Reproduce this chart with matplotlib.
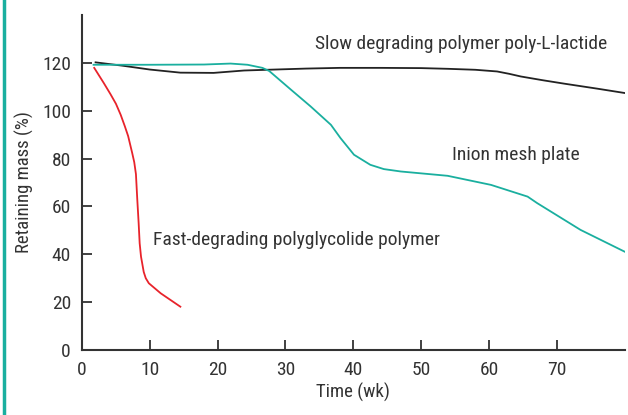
import matplotlib
matplotlib.use("Agg")
import matplotlib.pyplot as plt
from matplotlib.lines import Line2D

plt.rcParams['font.family'] = ['Roboto Condensed', 'DejaVu Sans']

# Data
slow_x = [2, 6, 10, 14.5, 19.4, 23.9, 27.3, 33, 38, 44, 50, 54, 58, 61.2, 63, 64.7, 68, 71.1, 76, 80]
slow_y = [120.2, 118.8, 117.2, 115.9, 115.8, 116.8, 117.1, 117.6, 117.9, 117.9, 117.8, 117.5, 117.1, 116.4, 115.4, 114.3, 112.7, 111.3, 109.2, 107.4]

inion_x = [1.7, 10, 18, 21.9, 24.4, 26.6, 27.6, 30.8, 33.7, 36.7, 38.1, 40.1, 42.5, 44.5, 47, 53.9, 60.3, 65.7, 67.1, 73.5, 80]
inion_y = [119.2, 119.2, 119.3, 119.7, 119.2, 117.9, 116.6, 108.8, 101.8, 94.1, 88.6, 81.6, 77.4, 75.6, 74.6, 72.8, 69.0, 64.1, 61.4, 50.2, 41.1]

fast_x = [1.8, 3.2, 4.2, 5.0, 5.7, 6.3, 6.8, 7.4, 7.7, 7.95, 8.15, 8.35, 8.5, 8.7, 9.1, 9.4, 9.85, 11.6, 14.5]
fast_y = [117.9, 111.6, 106.9, 102.9, 98.3, 93.6, 89.4, 82.3, 78.5, 73.5, 62.8, 53.0, 44.6, 39.0, 32.6, 30.0, 27.9, 23.7, 18.1]

xticks = [0, 10, 20, 30, 40, 50, 60, 70]
yticks = [0, 20, 40, 60, 80, 100, 120]

TEXT = "#333333"
TEAL = "#1aaf9f"
RED = "#e8232b"

fig = plt.figure(figsize=(6.28, 4.15), dpi=100)
ax = fig.add_axes([0.1306, 0.1566, 0.864, 0.8073])

ax.plot(slow_x, slow_y, color="#222222", lw=1.3)
ax.plot(inion_x, inion_y, color=TEAL, lw=1.3)
ax.plot(fast_x, fast_y, color=RED, lw=1.3)

ax.set_xlim(0, 80)
ax.set_ylim(0, 140)
ax.set_xticks(xticks)
ax.set_yticks(yticks)
for s in ["top", "right"]:
    ax.spines[s].set_visible(False)
for s in ["left", "bottom"]:
    ax.spines[s].set_color("#333333")
    ax.spines[s].set_linewidth(1.5)
ax.tick_params(direction="in", length=7, width=1.3, color="#333333",
               labelsize=14, labelcolor=TEXT)
ax.tick_params(axis="x", pad=8)
ax.tick_params(axis="y", pad=8)
ax.set_xlabel("Time (wk)", fontsize=13.5, color=TEXT, labelpad=3)
ax.set_ylabel("Retaining mass (%)", fontsize=13.5, color=TEXT, labelpad=6)

ax.text(34.3, 127.7, "Slow degrading polymer poly-L-lactide", fontsize=14, color=TEXT, va="center", ha="left")
ax.text(54.5, 81.6, "Inion mesh plate", fontsize=14, color=TEXT, va="center", ha="left")
ax.text(10.5, 46, "Fast-degrading polyglycolide polymer", fontsize=14, color=TEXT, va="center", ha="left")

fig.add_artist(Line2D([0.0056, 0.0056], [0, 1], transform=fig.transFigure, color=TEAL, lw=2.5))

fig.savefig("out.png", dpi=100)
